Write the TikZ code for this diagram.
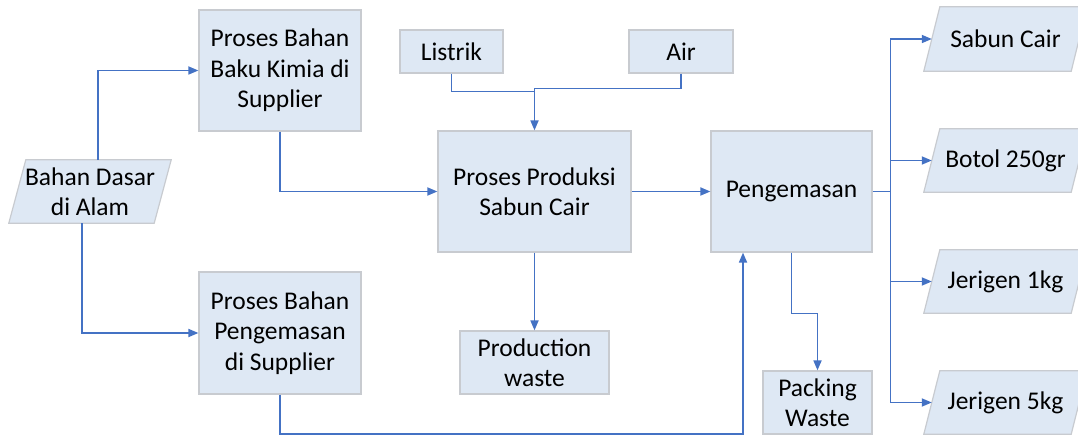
\documentclass[tikz,border=0pt]{standalone}
\usepackage{fontspec}
\setmainfont{Carlito}
\usetikzlibrary{arrows.meta,calc,backgrounds}
\definecolor{boxfill}{HTML}{DEE8F4}
\definecolor{boxline}{HTML}{C8CBD0}
\definecolor{flow}{HTML}{4472C4}
\begin{document}
\begin{tikzpicture}[x=1pt,y=-1pt,
  txt/.style={font=\fontsize{25.5}{30.5}\selectfont, align=center, inner sep=0pt},
  procbox/.style={txt, rectangle, draw=boxline, line width=1.2pt, fill=boxfill},
  paranode/.style={txt, rectangle},
  parashape/.style={draw=boxline, line width=1.2pt, fill=boxfill},
  link/.style={draw=flow, line width=1.7pt},
  arrow/.style={link, -{Triangle[length=10pt,width=8pt]}}
]
\useasboundingbox (0,0) rectangle (1078,435);
\clip (0,0) rectangle (1078,435);

% process boxes
\node[procbox, minimum width=162pt, minimum height=121pt] (baku) at (280,70.5) {Proses Bahan\\Baku Kimia di\\Supplier};
\node[procbox, minimum width=162pt, minimum height=122pt] (pbk) at (280,333) {Proses Bahan\\Pengemasan\\di Supplier};
\node[procbox, minimum width=103pt, minimum height=43pt] (listrik) at (451.5,51.5) {Listrik};
\node[procbox, minimum width=104pt, minimum height=43pt] (air) at (681,51.5) {Air};
\node[procbox, minimum width=193pt, minimum height=121pt] (prod) at (534.5,191.5) {Proses Produksi\\Sabun Cair};
\node[procbox, minimum width=161pt, minimum height=121pt] (kemas) at (791.5,191.5) {Pengemasan};
\node[procbox, minimum width=149pt, minimum height=63pt] (pwaste) at (534.5,362.5) {Production\\waste};
\node[procbox, minimum width=109pt, minimum height=63pt] (pack) at (817.5,402.5) {Packing\\Waste};

% input / output parallelograms
\node[paranode, minimum width=162pt, minimum height=63pt] (dasar) at (90,191.5) {Bahan Dasar\\di Alam};
\node[paranode, minimum width=163pt, minimum height=64pt] (sabun) at (1005.5,39) {Sabun Cair};
\node[paranode, minimum width=163pt, minimum height=63pt] (botol) at (1005.5,160.5) {Botol 250gr};
\node[paranode, minimum width=163pt, minimum height=63pt] (j1) at (1005.5,281.5) {Jerigen 1kg};
\node[paranode, minimum width=163pt, minimum height=63pt] (j5) at (1005.5,402.5) {Jerigen 5kg};

\begin{scope}[on background layer]
  \foreach \n/\s in {dasar/17, sabun/16, botol/16, j1/16, j5/16}{
    \path[parashape] ($(\n.north west)+(\s,0)$) -- (\n.north east)
      -- ($(\n.south east)+(-\s,0)$) -- (\n.south west) -- cycle;
  }
\end{scope}

% flows
\draw[arrow] ($(dasar.north)+(8,0)$) |- (baku.west);
\draw[arrow] ($(dasar.south)+(-8,0)$) |- (pbk.west);
\draw[arrow] (baku.south) |- (prod.west);

\coordinate (jn) at ($(prod.north)+(0,-42)$);
\draw[link] (listrik.south) |- ($(jn)+(0,3)$);
\draw[arrow] (air.south) |- (jn) -- (prod.north);

\draw[arrow] (prod.east) -- (kemas.west);
\draw[arrow] (prod.south) -- (pwaste.north);
\draw[arrow] (kemas.south) -- ++(0,61) -| (pack.north);
\draw[arrow] (pbk.south) -- ++(0,39.5) -| ($(kemas.south)+(-48.5,0)$);

\coordinate (bus) at ($(kemas.east)+(18,0)$);
\draw[link] (kemas.east) -- (bus);
\foreach \n in {sabun, botol, j1, j5}{
  \draw[arrow] (bus) |- ($(\n.west)+(8,0)$);
}
\end{tikzpicture}
\end{document}
